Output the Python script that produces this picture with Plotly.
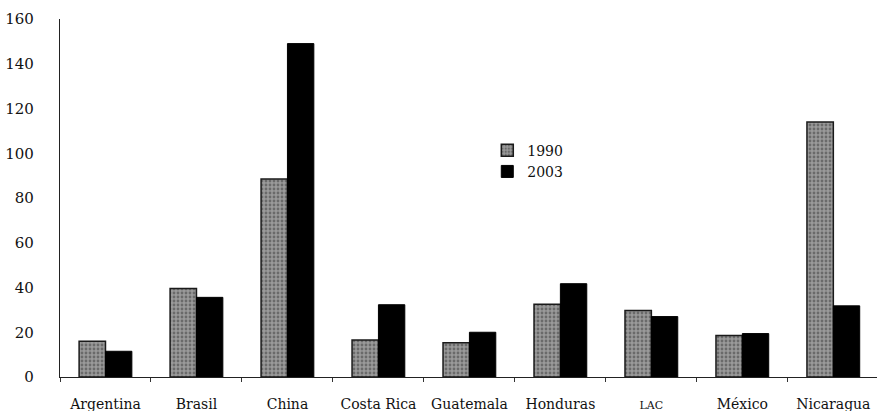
import plotly.graph_objects as go

categories = ["Argentina", "Brasil", "China", "Costa Rica", "Guatemala",
              "Honduras", "LAC", "México", "Nicaragua"]
tick_labels = ["Argentina", "Brasil", "China", "Costa Rica", "Guatemala",
               "Honduras", "<span style='font-size:11px'>LAC</span>", "México", "Nicaragua"]
values_1990 = [16, 39.5, 88.5, 16.5, 15.3, 32.5, 29.7, 18.6, 114]
values_2003 = [11.5, 35.6, 149, 32.3, 20, 41.7, 27, 19.4, 31.8]
y_ticks = [0, 20, 40, 60, 80, 100, 120, 140, 160]

FONT = "DejaVu Serif"

fig = go.Figure()
fig.add_trace(go.Bar(
    x=categories, y=values_1990, name="1990",
    marker=dict(color="#9c9c9c",
                line=dict(color="#1a1a1a", width=1.5),
                pattern=dict(shape=".", fgcolor="#3a3a3a", bgcolor="#9a9a9a",
                             size=4, solidity=0.4)),
))
fig.add_trace(go.Bar(
    x=categories, y=values_2003, name="2003",
    marker=dict(color="#000000", line=dict(color="#000000", width=1)),
))

fig.update_layout(
    width=877, height=411,
    margin=dict(l=60, r=0, t=19, b=34),
    paper_bgcolor="white", plot_bgcolor="white",
    barmode="group", bargap=0.42, bargroupgap=0,
    font=dict(family=FONT, color="#111111", size=14),
    showlegend=True,
    legend=dict(x=0.523, y=0.677, xanchor="left", yanchor="top",
                bgcolor="rgba(0,0,0,0)", font=dict(family=FONT, size=14),
                tracegroupgap=0, itemwidth=30),
)
fig.update_xaxes(
    type="category", range=[-0.5, 8.48], automargin=False,
    tickmode="array", tickvals=categories, ticktext=tick_labels,
    tickangle=0,
    tickson="boundaries", ticks="outside", ticklen=4, tickcolor="#333",
    showline=True, linecolor="#222", linewidth=1.2,
    showgrid=False, zeroline=False,
    tickfont=dict(family=FONT, size=14, color="#111"),
    ticklabelstandoff=14,
)
fig.update_yaxes(
    range=[0, 160], tickvals=y_ticks, automargin=False,
    showline=True, linecolor="#222", linewidth=1.2,
    showgrid=False, zeroline=False, ticks="",
    tickfont=dict(family=FONT, size=15, color="#111"),
    ticklabelstandoff=22,
)
fig.write_html("out.html", config={"displayModeBar": False},
               post_script="document.body.style.margin='0';document.body.style.overflow='hidden';")
